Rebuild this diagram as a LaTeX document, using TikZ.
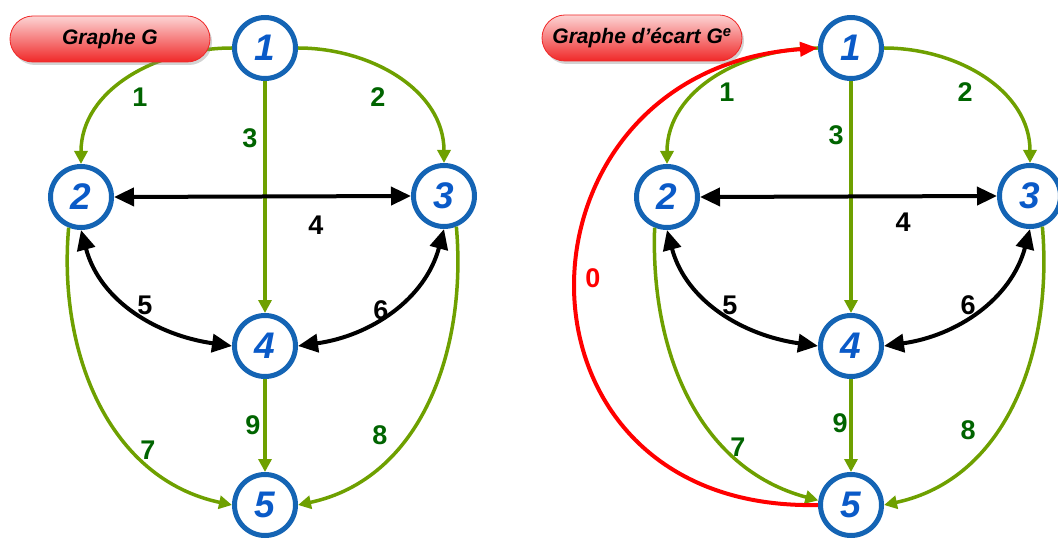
\documentclass[tikz,border=0pt]{standalone}
\usepackage{fontspec}
\setmainfont{Liberation Sans}
\usetikzlibrary{arrows.meta, positioning, shadows}

\definecolor{ringblue}{RGB}{20,100,180}
\definecolor{digitblue}{RGB}{10,90,200}
\definecolor{arcgreen}{RGB}{110,160,0}
\definecolor{labgreen}{RGB}{0,100,0}
\definecolor{pillred}{RGB}{240,40,40}

\begin{document}
\begin{tikzpicture}[
        x=1pt, y=-1pt,
        % Vertices of both graphs
        vertex/.style={circle, draw=ringblue, line width=5pt, fill=white, minimum size=61pt, inner sep=0pt, font=\fontsize{37}{37}\selectfont\bfseries\itshape, text=digitblue},
        % Red title pills
        titlepill/.style={rectangle, rounded corners=23pt, draw=pillred, thick, top color=pillred!20, bottom color=pillred, minimum width=200pt, minimum height=46pt, font=\fontsize{21}{21}\selectfont\bfseries\itshape, drop shadow={opacity=0.35, shadow xshift=2pt, shadow yshift=-3pt}},
        % Connectors
        greenarc/.style={arcgreen, line width=3.5pt, -{Triangle[length=13pt,width=13pt]}},
        twoway/.style={black, line width=4pt, {Triangle[length=20pt,width=18pt]}-{Triangle[length=20pt,width=18pt]}},
        backarc/.style={red, line width=4pt, -{Triangle[length=18pt,width=14pt]}},
        % Edge weights
        wgreen/.style={font=\fontsize{27}{27}\selectfont\bfseries, text=labgreen},
        wblack/.style={font=\fontsize{27}{27}\selectfont\bfseries, text=black},
        wred/.style={font=\fontsize{27}{27}\selectfont\bfseries, text=red}
    ]
    \useasboundingbox (0,0) rectangle (1058,540);

    % --- GRAPH G ---
    \node (a1) [vertex] at (265,48) {1};
    \node (a2) [vertex] at (81,197) {2};
    \node (a3) [vertex] at (444,196) {3};
    \node (a4) [vertex] at (265,346) {4};
    \node (a5) [vertex] at (265,505) {5};

    \draw [greenarc] (a1.west) to[out=180, in=90] (a2.north);
    \draw [greenarc] (a1.east) to[out=0, in=90] (a3.north);
    \draw [greenarc] (a1) -- (a4);
    \draw [twoway] (a2.east) -- (a3.west);
    \draw [twoway] (a2.south) to[out=-75, in=172] (a4.west);
    \draw [twoway] (a3.south) to[out=-105, in=8] (a4.east);
    \draw [greenarc] (a2.-112) to[out=-95, in=168] (a5.west);
    \draw [greenarc] (a3.-68) to[out=-85, in=12] (a5.east);
    \draw [greenarc] (a4) -- (a5);

    \node (ga) [titlepill] at (110,39) {Graphe G};

    \node (wa1) [wgreen] at (140,97) {1};
    \node (wa2) [wgreen] at (378,97) {2};
    \node (wa3) [wgreen] at (250,138) {3};
    \node (wa4) [wblack] at (316,225) {4};
    \node (wa5) [wblack] at (145,305) {5};
    \node (wa6) [wblack] at (381,310) {6};
    \node (wa7) [wgreen] at (148,450) {7};
    \node (wa8) [wgreen] at (380,435) {8};
    \node (wa9) [wgreen] at (253,425) {9};

    % --- GRAPHE D'ECART ---
    \node (b1) [vertex] at (851,48) {1};
    \node (b2) [vertex] at (667,197) {2};
    \node (b3) [vertex] at (1030,196) {3};
    \node (b4) [vertex] at (851,346) {4};
    \node (b5) [vertex] at (851,505) {5};

    \draw [greenarc] (b1.west) to[out=180, in=90] (b2.north);
    \draw [greenarc] (b1.east) to[out=0, in=90] (b3.north);
    \draw [greenarc] (b1) -- (b4);
    \draw [twoway] (b2.east) -- (b3.west);
    \draw [twoway] (b2.south) to[out=-75, in=172] (b4.west);
    \draw [twoway] (b3.south) to[out=-105, in=8] (b4.east);
    \draw [greenarc] (b2.-112) to[out=-92, in=165] (b5.172);
    \draw [greenarc] (b3.-68) to[out=-85, in=12] (b5.east);
    \draw [greenarc] (b4) -- (b5);
    \draw [backarc] (b5.west) .. controls (491,512) and (500,70) .. (b1.west);

    \node (gb) [titlepill] at (642,38) {Graphe d'écart G\textsuperscript{e}};

    \node (wb0) [wred] at (593,278) {0};
    \node (wb1) [wgreen] at (727,92) {1};
    \node (wb2) [wgreen] at (965,92) {2};
    \node (wb3) [wgreen] at (836,135) {3};
    \node (wb4) [wblack] at (903,222) {4};
    \node (wb5) [wblack] at (730,305) {5};
    \node (wb6) [wblack] at (968,305) {6};
    \node (wb7) [wgreen] at (738,447) {7};
    \node (wb8) [wgreen] at (968,430) {8};
    \node (wb9) [wgreen] at (840,423) {9};

\end{tikzpicture}
\end{document}
